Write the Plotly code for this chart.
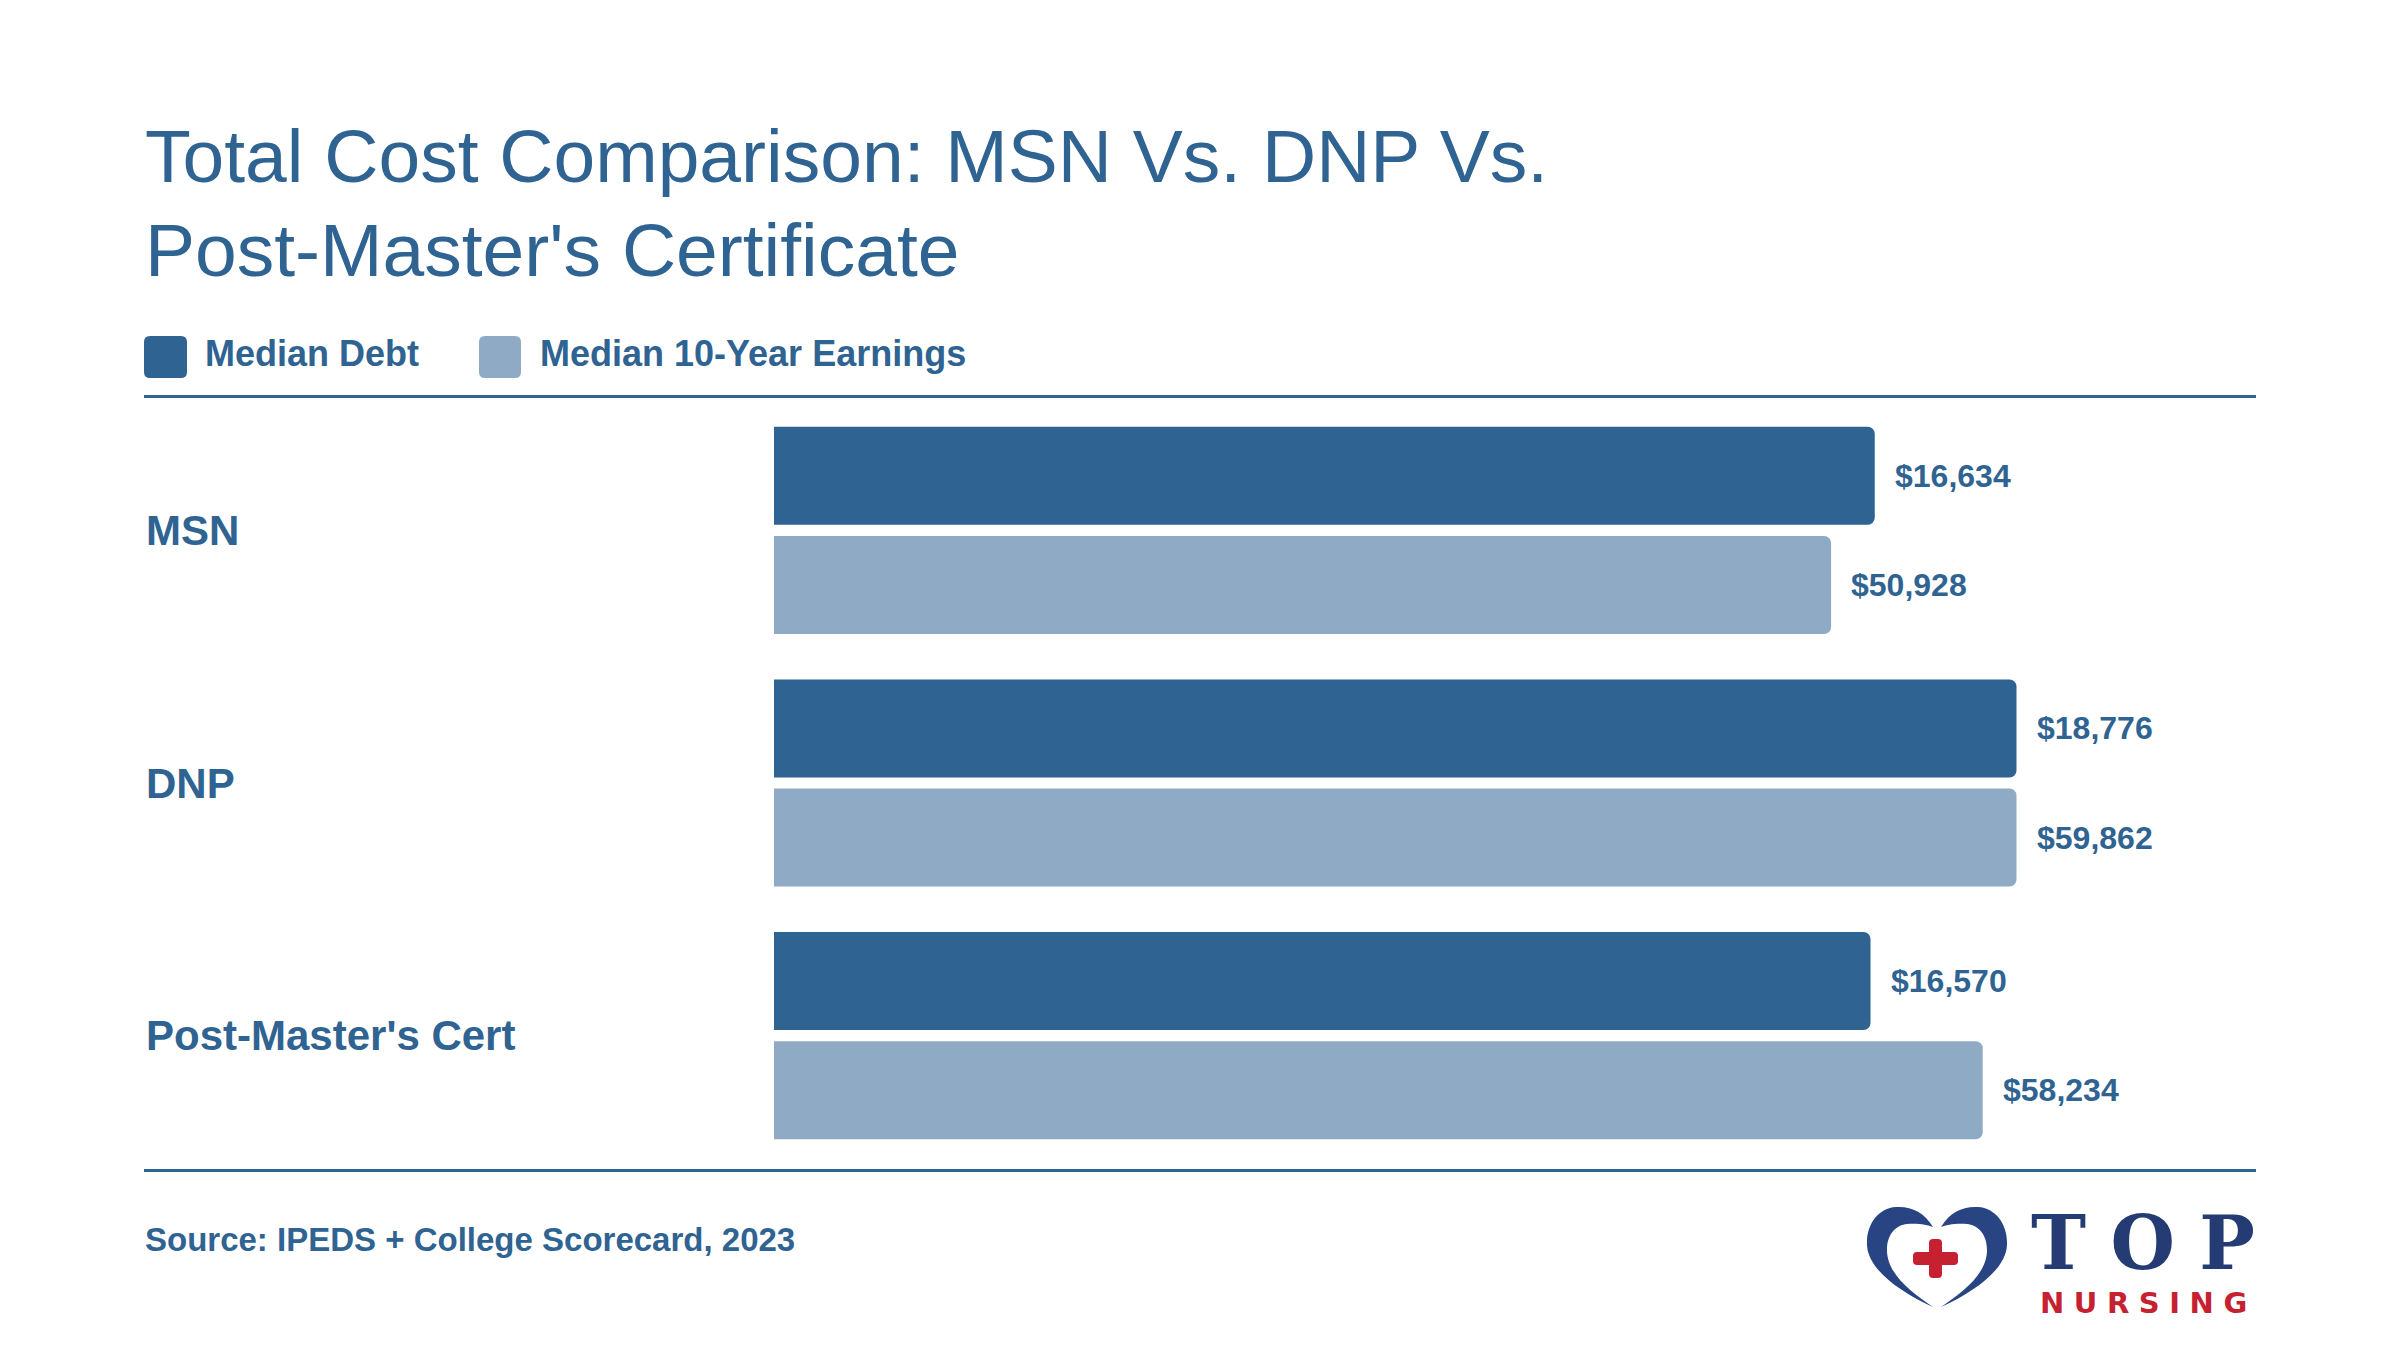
import plotly.graph_objects as go

# ---------------- data ----------------
categories = ["MSN", "DNP", "Post-Master's Cert"]
median_debt = [16634, 18776, 16570]
median_earnings = [50928, 59862, 58234]
series_names = ["Median Debt", "Median 10-Year Earnings"]
title_lines = ["Total Cost Comparison: MSN Vs. DNP Vs.", "Post-Master's Certificate"]
source_text = "Source: IPEDS + College Scorecard, 2023"
logo_top = "\u2004".join("TOP")
logo_bottom = "\u2004".join("NURSING")

# ---------------- style ----------------
W, H = 2400, 1350
ML, MR, MT, MB = 774, 144, 404, 188
PW, PH = W - ML - MR, H - MT - MB
FULL_BAR = 1242.5  # pixel length of the longest bar of each series

DARK = "#2F6392"
LIGHT = "#8FAAC5"
TEXT = "#2F6392"
NAVY = "#243B73"
NAVY2 = "#284483"
RED = "#C62130"
FONT = "Liberation Sans, Arial, sans-serif"


def px(x):
    return (x - ML) / PW


def py(y):
    return (H - MB - y) / PH


def rrect(x0, y0, x1, y1, r):
    pts = [
        ("M", [(x0 + r, y0)]), ("L", [(x1 - r, y0)]), ("Q", [(x1, y0), (x1, y0 + r)]),
        ("L", [(x1, y1 - r)]), ("Q", [(x1, y1), (x1 - r, y1)]), ("L", [(x0 + r, y1)]),
        ("Q", [(x0, y1), (x0, y1 - r)]), ("L", [(x0, y0 + r)]), ("Q", [(x0, y0), (x0 + r, y0)]),
    ]
    s = ""
    for cmd, ps in pts:
        s += cmd + " " + " ".join(f"{px(a):.5f},{py(b):.5f}" for a, b in ps) + " "
    return s + "Z"


def heart_half(cx, sign):
    # sign = -1 for left half, +1 for right half (pixel coordinates)
    segs = [
        ("M", [(3, 1227)]),
        ("C", [(12, 1212), (25, 1206), (40, 1207)]),
        ("C", [(58, 1208), (70, 1225), (69, 1245)]),
        ("C", [(68, 1268), (40, 1290), (3, 1307)]),
        ("C", [(25, 1292), (49, 1274), (49, 1250)]),
        ("C", [(49, 1233), (39, 1225), (29, 1224)]),
        ("C", [(18, 1223), (8, 1225), (3, 1227)]),
    ]
    s = ""
    for cmd, ps in segs:
        s += cmd + " " + " ".join(f"{px(cx + sign * dx):.5f},{py(y):.5f}" for dx, y in ps) + " "
    return s + "Z"


fig = go.Figure()

fig.add_trace(go.Bar(
    x=median_debt, y=categories, orientation="h", name=series_names[0],
    marker=dict(color=DARK, cornerradius=7, line=dict(width=0)),
    offset=-0.41, width=0.388, xaxis="x", yaxis="y", hoverinfo="skip",
))
fig.add_trace(go.Bar(
    x=median_earnings, y=categories, orientation="h", name=series_names[1],
    marker=dict(color=LIGHT, cornerradius=7, line=dict(width=0)),
    offset=0.022, width=0.388, xaxis="x2", yaxis="y", hoverinfo="skip",
))

annotations = []
# title
for i, (line, yc) in enumerate(zip(title_lines, [156, 250])):
    annotations.append(dict(text=line, xref="paper", yref="paper", x=px(143), y=py(yc),
                            xanchor="left", yanchor="middle", showarrow=False,
                            font=dict(family=FONT, size=75, color=TEXT)))
# legend labels
for name, xl in zip(series_names, [203, 538]):
    annotations.append(dict(text=f"<b>{name}</b>", xref="paper", yref="paper", x=px(xl), y=py(353),
                            xanchor="left", yanchor="middle", showarrow=False,
                            font=dict(family=FONT, size=36, color=TEXT)))
# category labels
for i, c in enumerate(categories):
    annotations.append(dict(text=f"<b>{c}</b>", xref="paper", yref="y", x=px(144), y=i,
                            xanchor="left", yanchor="middle", showarrow=False,
                            font=dict(family=FONT, size=42, color=TEXT)))
# value labels
for i, (d, e) in enumerate(zip(median_debt, median_earnings)):
    annotations.append(dict(text=f"<b>${d:,}</b>", xref="x", yref="y", x=d, y=i - 0.216,
                            xanchor="left", yanchor="middle", xshift=18, showarrow=False,
                            font=dict(family=FONT, size=32, color=TEXT)))
    annotations.append(dict(text=f"<b>${e:,}</b>", xref="x2", yref="y", x=e, y=i + 0.216,
                            xanchor="left", yanchor="middle", xshift=18, showarrow=False,
                            font=dict(family=FONT, size=32, color=TEXT)))
# source
annotations.append(dict(text=f"<b>{source_text}</b>", xref="paper", yref="paper", x=px(143), y=py(1239),
                        xanchor="left", yanchor="middle", showarrow=False,
                        font=dict(family=FONT, size=33, color=TEXT)))
# logo text
annotations.append(dict(text=f"<b>{logo_top}</b>", xref="paper", yref="paper", x=px(2142.5), y=py(1242.5),
                        xanchor="center", yanchor="middle", showarrow=False, borderpad=0,
                        font=dict(family="DejaVu Serif", size=74, color=NAVY)))
annotations.append(dict(text=f"<b>{logo_bottom}</b>", xref="paper", yref="paper", x=px(2143.5), y=py(1303),
                        xanchor="center", yanchor="middle", showarrow=False, borderpad=0,
                        font=dict(family="DejaVu Sans", size=29, color=RED)))

shapes = [
    dict(type="line", xref="paper", yref="paper", x0=px(144), x1=px(2256), y0=py(396.5), y1=py(396.5),
         line=dict(color=DARK, width=3)),
    dict(type="line", xref="paper", yref="paper", x0=px(144), x1=px(2256), y0=py(1170.5), y1=py(1170.5),
         line=dict(color=DARK, width=3)),
    dict(type="path", xref="paper", yref="paper", path=rrect(144, 336, 187, 378, 6),
         fillcolor=DARK, line=dict(width=0)),
    dict(type="path", xref="paper", yref="paper", path=rrect(479, 336, 521, 378, 6),
         fillcolor=LIGHT, line=dict(width=0)),
    dict(type="path", xref="paper", yref="paper", path=heart_half(1936, -1),
         fillcolor=NAVY2, line=dict(width=0)),
    dict(type="path", xref="paper", yref="paper", path=heart_half(1938, 1),
         fillcolor=NAVY2, line=dict(width=0)),
    dict(type="path", xref="paper", yref="paper", path=rrect(1913, 1252, 1958, 1265, 4),
         fillcolor=RED, line=dict(width=0)),
    dict(type="path", xref="paper", yref="paper", path=rrect(1929, 1239, 1942, 1278, 4),
         fillcolor=RED, line=dict(width=0)),
]

fig.update_layout(
    width=W, height=H,
    margin=dict(l=ML, r=MR, t=MT, b=MB, pad=0),
    paper_bgcolor="white", plot_bgcolor="white",
    showlegend=False, barmode="overlay",
    xaxis=dict(range=[0, max(median_debt) * PW / FULL_BAR], visible=False, fixedrange=True),
    xaxis2=dict(range=[0, max(median_earnings) * PW / FULL_BAR], overlaying="x", visible=False,
                fixedrange=True),
    yaxis=dict(type="category", categoryorder="array", categoryarray=categories,
               range=[2.5, -0.5], visible=False, fixedrange=True),
    annotations=annotations,
    shapes=shapes,
    font=dict(family=FONT, color=TEXT),
)

fig.write_html("out.html", config={"displayModeBar": False})
